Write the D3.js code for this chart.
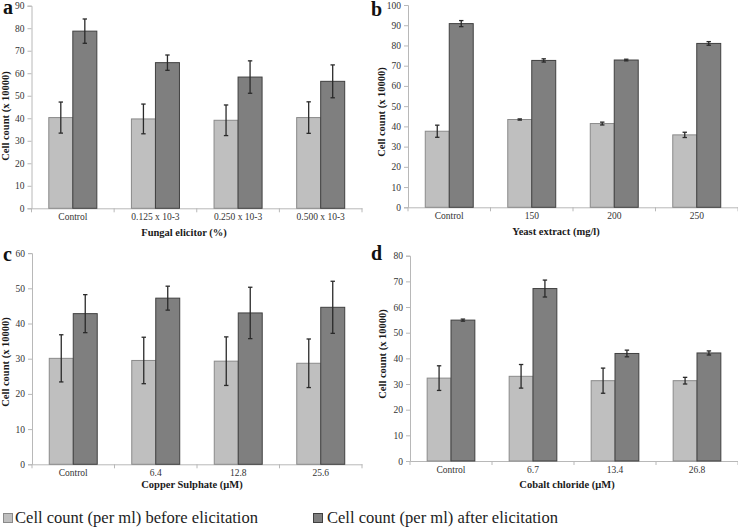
<!DOCTYPE html>
<html><head><meta charset="utf-8">
<script src="https://cdn.jsdelivr.net/npm/d3@7/dist/d3.min.js"></script>
<style>body{margin:0;background:#fff}svg{display:block}
svg text{font-family:'Liberation Serif','Tinos','Times New Roman','DejaVu Serif',serif !important}</style>
</head><body><svg id="c" width="738" height="530" font-family="Liberation Serif, DejaVu Serif, serif"></svg>
<script>
const categoriesA = ["Control","0.125 x 10-3","0.250 x 10-3","0.500 x 10-3"];
const beforeA = [40.3, 39.7, 39.1, 40.3];
const beforeErrA = [6.9, 6.6, 6.8, 7.0];
const afterA = [78.7, 64.7, 58.3, 56.4];
const afterErrA = [5.4, 3.4, 7.2, 7.3];

const categoriesB = ["Control","150","200","250"];
const beforeB = [37.6, 43.4, 41.4, 35.8];
const beforeErrB = [3.0, 0.3, 0.7, 1.3];
const afterB = [90.8, 72.6, 72.8, 81.0];
const afterErrB = [1.5, 0.8, 0.4, 0.9];

const categoriesC = ["Control","6.4","12.8","25.6"];
const beforeC = [30.1, 29.5, 29.3, 28.7];
const beforeErrC = [6.7, 6.6, 6.9, 6.9];
const afterC = [42.8, 47.2, 43.0, 44.6];
const afterErrC = [5.4, 3.4, 7.3, 7.4];

const categoriesD = ["Control","6.7","13.4","26.8"];
const beforeD = [32.3, 33.0, 31.3, 31.3];
const beforeErrD = [4.8, 4.6, 4.9, 1.3];
const afterD = [54.9, 67.2, 41.9, 42.1];
const afterErrD = [0.4, 3.3, 1.3, 0.8];

const yMaxes = [90, 100, 60, 80];
const panelLetters = ["a","b","c","d"];
const xTitles = ["Fungal elicitor (%)","Yeast extract (mg/l)","Copper Sulphate (\u00b5M)","Cobalt chloride (\u00b5M)"];
const yTitle = "Cell count (x 10000)";
const seriesNames = ["Cell count (per ml) before elicitation","Cell count (per ml) after elicitation"];

const colors = {before:{fill:"#bfbfbf",stroke:"#8a8a8a"}, after:{fill:"#7f7f7f",stroke:"#404040"}};
const FONT = "'Liberation Serif','Tinos','Times New Roman','DejaVu Serif',serif";

const panels = [
  {cats:categoriesA, b:beforeA, be:beforeErrA, a:afterA, ae:afterErrA, x0:31.5, x1:362, yT:5.7, yB:208.3, letter:[3,14], ytx:9, yty:116, xtc:184, xty:28},
  {cats:categoriesB, b:beforeB, be:beforeErrB, a:afterB, ae:afterErrB, x0:408, x1:738, yT:5, yB:207.3, letter:[371,16], ytx:385, yty:112, xtc:556, xty:28},
  {cats:categoriesC, b:beforeC, be:beforeErrC, a:afterC, ae:afterErrC, x0:32, x1:362, yT:253.1, yB:464.3, letter:[3,261], ytx:9, yty:362, xtc:192, xty:24},
  {cats:categoriesD, b:beforeD, be:beforeErrD, a:afterD, ae:afterErrD, x0:410, x1:738, yT:255.7, yB:461, letter:[371,260], ytx:386, yty:354, xtc:567, xty:27}
];

const svg = d3.select("#c");
const axisCol = "#b8b8b8";

panels.forEach((p, i) => {
  const g = svg.append("g");
  const x = d3.scaleBand().domain(p.cats).range([p.x0, p.x1]);
  const y = d3.scaleLinear().domain([0, yMaxes[i]]).range([p.yB, p.yT]);
  const sub = d3.scaleBand().domain(["before","after"]).range([0, x.bandwidth()]).paddingOuter(0.72);

  const ya = g.append("g").attr("transform", `translate(${p.x0},0)`)
    .call(d3.axisLeft(y).ticks(yMaxes[i] / 10).tickSize(4).tickPadding(3));
  ya.attr("font-family", FONT);
  ya.select(".domain").attr("stroke", axisCol);
  ya.selectAll(".tick line").attr("stroke", axisCol);
  ya.selectAll(".tick text").attr("fill", "#333").style("font-size", "9.5px");

  const xa = g.append("g").attr("transform", `translate(0,${p.yB})`)
    .call(d3.axisBottom(x).tickSize(0).tickPadding(5));
  xa.attr("font-family", FONT);
  xa.select(".domain").attr("stroke", axisCol);
  xa.selectAll(".tick text").attr("fill", "#333").style("font-size", "9.5px");
  g.selectAll("line.bt").data(p.cats.map((c, k) => k).concat([p.cats.length])).join("line")
    .attr("x1", k => p.x0 + k * x.step()).attr("x2", k => p.x0 + k * x.step())
    .attr("y1", p.yB).attr("y2", p.yB + 4).attr("stroke", axisCol);

  const series = [
    {key:"before", vals:p.b, errs:p.be},
    {key:"after", vals:p.a, errs:p.ae}
  ];
  series.forEach(s => {
    const bx = c => x(c) + sub(s.key);
    g.selectAll(null).data(p.cats).join("rect")
      .attr("x", c => bx(c)).attr("width", sub.bandwidth())
      .attr("y", (c, k) => y(s.vals[k])).attr("height", (c, k) => p.yB - y(s.vals[k]))
      .attr("fill", colors[s.key].fill).attr("stroke", colors[s.key].stroke).attr("stroke-width", 1);
    const eg = g.selectAll(null).data(p.cats).join("g")
      .attr("transform", c => `translate(${bx(c) + sub.bandwidth() / 2},0)`);
    eg.append("line").attr("y1", (c, k) => y(s.vals[k] - s.errs[k])).attr("y2", (c, k) => y(s.vals[k] + s.errs[k]))
      .attr("stroke", "#2a2a2a").attr("stroke-width", 1.3);
    [-1, 1].forEach(sg => {
      eg.append("line").attr("x1", -2.2).attr("x2", 2.2)
        .attr("y1", (c, k) => y(s.vals[k] + sg * s.errs[k])).attr("y2", (c, k) => y(s.vals[k] + sg * s.errs[k]))
        .attr("stroke", "#2a2a2a").attr("stroke-width", 1.3);
    });
  });

  g.append("text").attr("x", p.xtc).attr("y", p.yB + p.xty).attr("text-anchor", "middle")
    .style("font-size", "10.5px").style("font-weight", "bold").attr("fill", "#1a1a1a").text(xTitles[i]);
  g.append("text").attr("transform", `translate(${p.ytx},${p.yty}) rotate(-90)`).attr("text-anchor", "middle")
    .style("font-size", "10.5px").style("font-weight", "bold").attr("fill", "#1a1a1a").text(yTitle);
  g.append("text").attr("x", p.letter[0]).attr("y", p.letter[1])
    .style("font-size", "20px").style("font-weight", "bold").attr("fill", "#111").text(panelLetters[i]);
});

const legend = [
  {key:"before", sx:3, tx:15, len:243},
  {key:"after", sx:313, tx:327, len:231}
];
legend.forEach((l, k) => {
  svg.append("rect").attr("x", l.sx + 0.5).attr("y", 513.5).attr("width", 9).attr("height", 9)
    .attr("fill", colors[l.key].fill).attr("stroke", colors[l.key].stroke);
  svg.append("text").attr("x", l.tx).attr("y", 523).style("font-size", "17px").attr("fill", "#222")
    .attr("textLength", l.len).attr("lengthAdjust", "spacingAndGlyphs").text(seriesNames[k]);
});
</script></body></html>
